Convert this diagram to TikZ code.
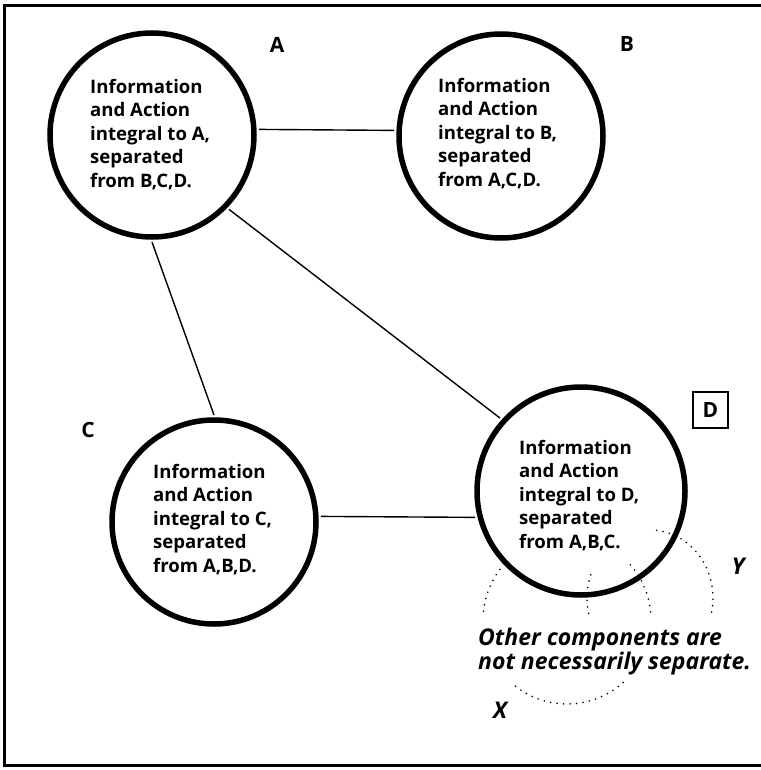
\documentclass[tikz,border=0pt]{standalone}
\usepackage{fontspec}
\setmainfont{Open Sans}
\begin{document}
\begin{tikzpicture}[x=1pt,y=-1pt,
  ring/.style={circle,draw,line width=5.5pt,minimum size=204pt,inner sep=0pt,outer sep=5pt},
  body/.style={align=left,inner sep=0pt,anchor=north west,font=\fontsize{18.6}{23.5}\selectfont\bfseries},
  tag/.style={inner sep=0pt,font=\fontsize{21}{21}\selectfont\bfseries},
  tagbox/.style={draw,line width=2pt,minimum width=35pt,minimum height=36pt,inner sep=0pt,font=\fontsize{21}{21}\selectfont\bfseries},
  note/.style={align=left,inner sep=0pt,anchor=north west,font=\fontsize{23}{24}\selectfont\bfseries\itshape},
  xylabel/.style={inner sep=0pt,font=\fontsize{23}{23}\selectfont\bfseries\itshape},
  link/.style={line width=1.4pt},
  dots/.style={line width=1.8pt,line cap=round,dash pattern=on 0pt off 6.5pt}
]
\useasboundingbox (0,0) rectangle (760,770);

% frame (right edge runs off the page)
\draw[line width=3pt] (765,5.5) -- (4.5,5.5) -- (4.5,765.5) -- (765,765.5);

% the four separated components
\node[ring] (A) at (152,135) {};
\node[ring] (B) at (501,136) {};
\node[ring] (C) at (214,522) {};
\node[ring,minimum size=208pt] (D) at (581,491) {};

\node[body] (At) at (90,79) {Information\\and Action\\integral to A,\\separated\\from B,C,D.};
\node[body] (Bt) at (438,78) {Information\\and Action\\integral to B,\\separated\\from A,C,D.};
\node[body] (Ct) at (153,464) {Information\\and Action\\integral to C,\\separated\\from A,B,D.};
\node[body] (Dt) at (519,440) {Information\\and Action\\integral to D,\\separated\\from A,B,C.};

% component labels
\node[tag] (la) at (277,45) {A};
\node[tag] (lb) at (627,44) {B};
\node[tag] (lc) at (88,430) {C};
\node[tagbox] (ld) at (710.5,410) {D};

% connections between components
\draw[link] (A.3) -- (B.177);
\draw[link] (A.south) -- (C.north);
\draw[link] (A.-44) -- (D.138);
\draw[link] (C.3) -- (D.194);

% overlapping, non-separated components X and Y
\coordinate (xc) at (567,620);
\coordinate (yc) at (650,598);
\draw[dots] (xc) ++(186:84) arc[start angle=186,end angle=221,radius=84];
\draw[dots] (xc) ++(319:84) arc[start angle=319,end angle=355,radius=84];
\draw[dots] (xc) ++(48:84) arc[start angle=48,end angle=131,radius=84];
\draw[dots] (yc) ++(-84:63 and 68) arc[start angle=-84,end angle=13,x radius=63,y radius=68];
\draw[dots] (yc) ++(167:63 and 68) arc[start angle=167,end angle=205,x radius=63,y radius=68];

\node[note] (nt) at (478,628) {Other components are\\not necessarily separate.};
\node[xylabel] (lx) at (500,710) {X};
\node[xylabel] (ly) at (738,566) {Y};
\end{tikzpicture}
\end{document}
